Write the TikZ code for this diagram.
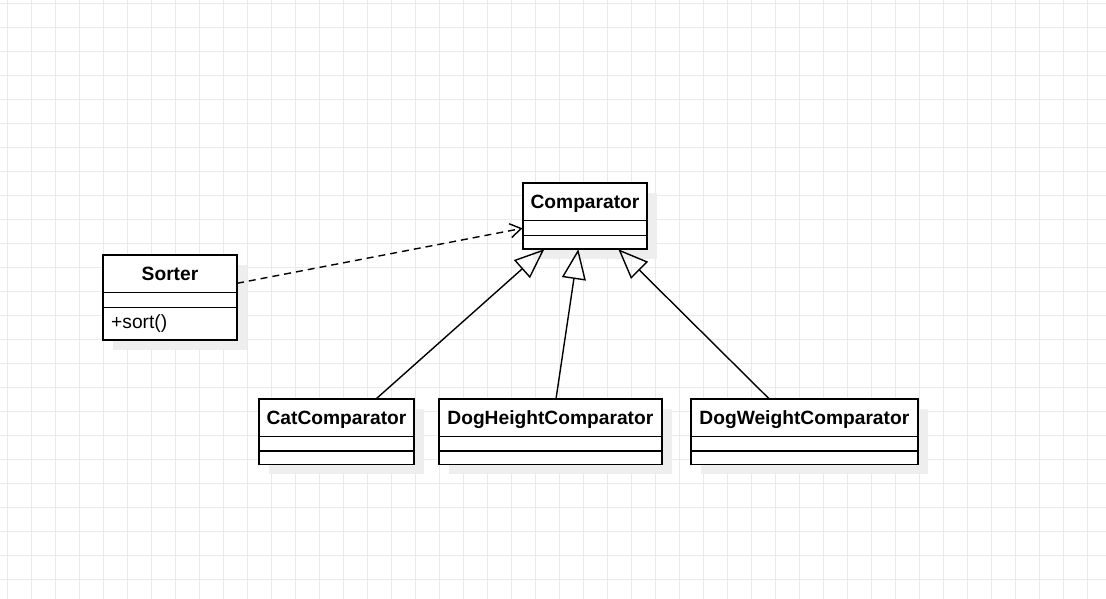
\documentclass[tikz,border=0pt]{standalone}
\usepackage{fontspec}
\setmainfont{Liberation Sans}
\usetikzlibrary{arrows.meta,calc}
\definecolor{gridc}{HTML}{EAEAEA}
\definecolor{shadowc}{HTML}{EEEEEE}
\begin{document}
\begin{tikzpicture}[x=1pt,y=-1pt,
  classbox/.style={draw=black,line width=1.6pt,fill=white,inner sep=0pt,outer sep=0pt,anchor=north west},
  sepline/.style={draw=black,line width=1.3pt},
  titletext/.style={font=\fontsize{19.2}{23}\selectfont\bfseries,anchor=base,inner sep=0pt},
  membertext/.style={font=\fontsize{19.2}{23}\selectfont,anchor=base west,inner sep=0pt},
  inherit/.style={draw=black,line width=1.4pt,-{Triangle[open,length=30pt,width=24pt,line width=1.4pt]}},
  depend/.style={draw=black,line width=1.4pt,dash pattern=on 7pt off 5pt,-{Straight Barb[length=11pt,width=14pt,line width=1.4pt]}},
  gridline/.style={draw=gridc,line width=1pt}
]
\useasboundingbox (0,0) rectangle (1106,599);
\fill[white] (0,0) rectangle (1106,599);
% grid
\foreach \i in {0,...,45} \draw[gridline] ({7.5+24*\i},0) -- ({7.5+24*\i},599);
\foreach \j in {0,...,24} \draw[gridline] (0,{3.5+24*\j}) -- (1106,{3.5+24*\j});

% shadows
\fill[shadowc] (533,193) rectangle (657,258.7);
\fill[shadowc] (113,265) rectangle (247,350);
\fill[shadowc] (269,409) rectangle (424,474.3);
\fill[shadowc] (449,409) rectangle (671.7,474.3);
\fill[shadowc] (701,409) rectangle (927.7,474.3);

% Comparator
\node[classbox,minimum width=124pt,minimum height=65.7pt] (cmp) at (523,183) {};
\draw[sepline] ($(cmp.north west)+(0,37.7)$) -- ($(cmp.north east)+(0,37.7)$);
\draw[sepline] ($(cmp.north west)+(0,52.7)$) -- ($(cmp.north east)+(0,52.7)$);
\node[titletext] (cmpt) at ($(cmp.north)+(0,25.3)$) {Comparator};

% Sorter
\node[classbox,minimum width=134pt,minimum height=85pt] (sorter) at (103,255) {};
\draw[sepline] ($(sorter.north west)+(0,37.3)$) -- ($(sorter.north east)+(0,37.3)$);
\draw[sepline] ($(sorter.north west)+(0,52.3)$) -- ($(sorter.north east)+(0,52.3)$);
\node[titletext] (sortert) at ($(sorter.north)+(0,25.3)$) {Sorter};
\node[membertext] (sortm) at ($(sorter.south west)+(8,-11.5)$) {+sort()};

% CatComparator
\node[classbox,minimum width=155pt,minimum height=65.3pt] (cat) at (259,399) {};
\draw[sepline] ($(cat.north west)+(0,37.7)$) -- ($(cat.north east)+(0,37.7)$);
\draw[sepline] ($(cat.north west)+(0,52)$) -- ($(cat.north east)+(0,52)$);
\node[titletext] (catt) at ($(cat.north)+(0,25.3)$) {CatComparator};

% DogHeightComparator
\node[classbox,minimum width=222.7pt,minimum height=65.3pt] (dh) at (439,399) {};
\draw[sepline] ($(dh.north west)+(0,37.7)$) -- ($(dh.north east)+(0,37.7)$);
\draw[sepline] ($(dh.north west)+(0,52)$) -- ($(dh.north east)+(0,52)$);
\node[titletext] (dht) at ($(dh.north)+(0,25.3)$) {DogHeightComparator};

% DogWeightComparator
\node[classbox,minimum width=226.7pt,minimum height=65.3pt] (dw) at (691,399) {};
\draw[sepline] ($(dw.north west)+(0,37.7)$) -- ($(dw.north east)+(0,37.7)$);
\draw[sepline] ($(dw.north west)+(0,52)$) -- ($(dw.north east)+(0,52)$);
\node[titletext] (dwt) at ($(dw.north)+(0,25.3)$) {DogWeightComparator};

% connectors
\draw[inherit] ($(cat.north west)+(117,0)$) -- ($(cmp.south west)+(21.3,0.5)$);
\draw[inherit] ($(dh.north west)+(117,0)$) -- ($(cmp.south west)+(55.3,0.5)$);
\draw[inherit] ($(dw.north west)+(78.3,0)$) -- ($(cmp.south west)+(95.3,0.5)$);
\draw[depend] ($(sorter.north east)+(0,28.3)$) -- ($(cmp.north west)+(-0.5,45.3)$);
\end{tikzpicture}
\end{document}
